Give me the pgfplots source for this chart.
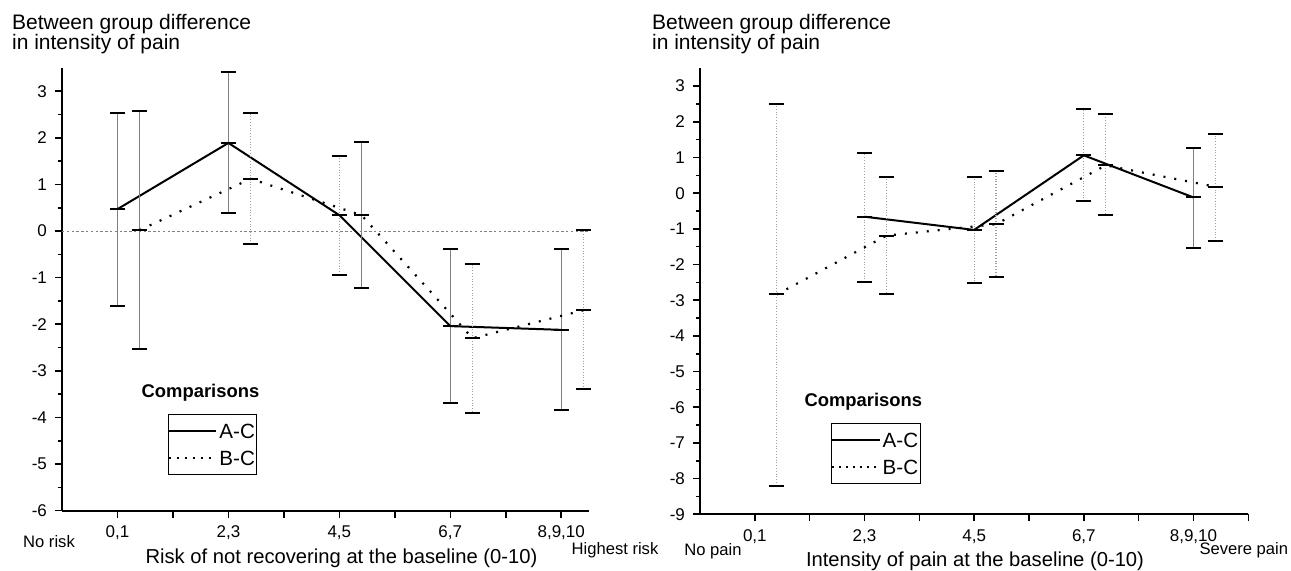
\documentclass[border=0pt]{standalone}
\usepackage{pgfplots}
\pgfplotsset{compat=1.18}
\usepackage{pgfplotstable}
\usepackage{fontspec}
\setmainfont{Liberation Sans}

% x, mean, lower and upper limit, s = 1 for a solid bar, 0 for a dotted one
\pgfplotstableread{
x    m      lo     hi    s
1    0.47  -1.60   2.54  1
3    1.89   0.39   3.42  1
5    0.34  -0.95   1.62  0
7   -2.04  -3.70  -0.39  1
9   -2.12  -3.84  -0.39  1
}\riskAC
\pgfplotstableread{
x    m      lo     hi    s
1.4  0.02  -2.53   2.58  1
3.4  1.12  -0.28   2.54  0
5.4  0.34  -1.23   1.92  1
7.4 -2.30  -3.91  -0.71  0
9.4 -1.70  -3.38   0.02  0
}\riskBC
\pgfplotstableread{
x    m      lo     hi    s
3   -0.66  -2.48   1.12  0
5   -1.03  -2.53   0.46  0
7    1.06  -0.22   2.37  0
9   -0.12  -1.55   1.27  1
}\painAC
\pgfplotstableread{
x    m      lo     hi    s
1.4 -2.84  -8.20   2.49  0
3.4 -1.19  -2.84   0.46  0
5.4 -0.87  -2.36   0.62  0
7.4  0.78  -0.62   2.21  0
9.4  0.18  -1.33   1.67  0
}\painBC

\pgfplotsset{
  panel/.style={
    scale only axis, clip=false,
    axis lines=left, axis line style={line width=1pt,-},
    tick align=outside, tick style={line width=0.8pt, black},
    major tick length=3.5pt, minor tick length=1.8pt,
    minor y tick num=1,
    tick label style={font=\fontsize{8.5}{9}\selectfont},
    /pgf/number format/assume math mode=true,
    yticklabel style={xshift=-0.5pt},
    xticklabel style={yshift=-0.5pt},
    legend image code/.code={\draw[##1] (0pt,0pt) -- (23.6pt,0pt);},
    legend style={draw=black, line width=0.5pt, inner xsep=0pt, inner ysep=1.5pt,
      font=\fontsize{10.3}{10}\selectfont, anchor=north west,
      nodes={inner xsep=1pt, inner ysep=3pt, text height=7.5pt, text depth=0pt},
      cells={anchor=west}, row sep=0pt},
  },
  bars/.style={only marks, forget plot, mark=-,
    mark options={black, solid, line width=1pt, mark size=3.75pt},
    error bars/y dir=both, error bars/y explicit,
    error bars/error mark options={rotate=90, black, solid, line width=1pt, mark size=3.75pt}},
  solidbar/.style={error bars/error bar style={gray, solid, line width=0.6pt}},
  dotbar/.style={error bars/error bar style={gray!75, densely dotted, line width=0.6pt}},
  acline/.style={black, line width=1pt, mark=none, forget plot},
  bcline/.style={black, line width=1.1pt, dash pattern=on 1pt off 4.5pt, mark=none, forget plot},
}

\newcommand{\errplot}[2]{%
  \addplot[bars, solidbar] table[x=x, y=m,
    y error plus expr=\thisrow{hi}-\thisrow{m},
    y error minus expr=\thisrow{m}-\thisrow{lo},
    restrict expr to domain={\thisrow{s}}{0.5:1.5}] {#1};
  \addplot[bars, dotbar] table[x=x, y=m,
    y error plus expr=\thisrow{hi}-\thisrow{m},
    y error minus expr=\thisrow{m}-\thisrow{lo},
    restrict expr to domain={\thisrow{s}}{-0.5:0.5}] {#1};
  \addplot[#2] table[x=x, y=m] {#1};
}

\begin{document}
\begin{tikzpicture}
\useasboundingbox (-31pt,-30.15pt) rectangle (614.5pt,255.35pt);

% left panel
\begin{axis}[panel, at={(0pt,0pt)}, anchor=south west,
  width=263.5pt, height=221.4pt,
  xmin=0, xmax=9.5, ymin=-6, ymax=3.5,
  xtick={1,...,9}, xticklabels={{0,1},,{2,3},,{4,5},,{6,7},,{8,9,10}},
  ytick={-6,...,3},
  legend style={at={(0.2006,0.2178)}}]
  \addplot[gray, line width=0.5pt, dash pattern=on 1.2pt off 1.2pt, forget plot]
    coordinates {(0,0) (9.5,0)};
  \errplot{\riskAC}{acline}
  \errplot{\riskBC}{bcline}
  \addlegendimage{black, line width=1pt}
  \addlegendentry{A-C}
  \addlegendimage{black, line width=0.9pt, dash pattern=on 1pt off 3pt}
  \addlegendentry{B-C}
  \node[font=\bfseries\fontsize{9.2}{9}\selectfont] at (axis description cs:0.2628,0.2659) {Comparisons};
\end{axis}

% right panel
\begin{axis}[panel, at={(319pt,-1.8pt)}, anchor=south west,
  width=274.15pt, height=223pt,
  xmin=0, xmax=10, ymin=-9, ymax=3.5,
  xtick={1,...,10}, xticklabels={{0,1},,{2,3},,{4,5},,{6,7},,{8,9,10},},
  ytick={-9,...,3},
  legend style={at={(0.2389,0.204)}}]
  \errplot{\painAC}{acline}
  \errplot{\painBC}{bcline}
  \addlegendimage{black, line width=1pt}
  \addlegendentry{A-C}
  \addlegendimage{black, line width=0.9pt, dash pattern=on 1pt off 2.5pt}
  \addlegendentry{B-C}
  \node[font=\bfseries\fontsize{9.2}{9}\selectfont] at (axis description cs:0.298,0.2525) {Comparisons};
\end{axis}

% titles and axis texts
\node[anchor=base west, align=left, inner sep=0pt, font=\fontsize{10.5}{10}\selectfont]
  at (-25.15pt,230.7pt) {Between group difference\\in intensity of pain};
\node[anchor=base west, align=left, inner sep=0pt, font=\fontsize{10.5}{10}\selectfont]
  at (294.85pt,230.7pt) {Between group difference\\in intensity of pain};
\node[font=\fontsize{10.1}{10}\selectfont] at (139.75pt,-23.65pt) {Risk of not recovering at the baseline (0-10)};
\node[font=\fontsize{10.1}{10}\selectfont] at (456.5pt,-25.5pt) {Intensity of pain at the baseline (0-10)};
\node[font=\fontsize{8.3}{9}\selectfont] at (-6.5pt,-15.5pt) {No risk};
\node[font=\fontsize{8.3}{9}\selectfont] at (276.5pt,-19.65pt) {Highest risk};
\node[font=\fontsize{8.3}{9}\selectfont] at (325.5pt,-20.5pt) {No pain};
\node[font=\fontsize{8.3}{9}\selectfont] at (590.9pt,-19.65pt) {Severe pain};
\end{tikzpicture}
\end{document}
